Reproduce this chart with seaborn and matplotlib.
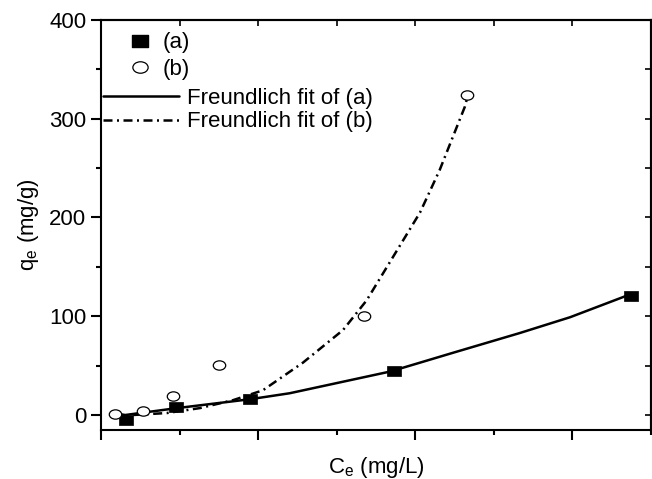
import numpy as np
import pandas as pd
import seaborn as sns
import matplotlib.pyplot as plt
from matplotlib.path import Path
from matplotlib.transforms import Affine2D
from matplotlib.lines import Line2D
from matplotlib.ticker import MultipleLocator, NullFormatter

# measured points
ce_a = [0.32, 0.95, 1.90, 3.73, 6.74]
qe_a = [-5, 8, 16, 45, 121]
ce_b = [0.18, 0.53, 0.92, 1.50, 3.35, 4.66]
qe_b = [1, 4, 19, 51, 100, 324]

# Freundlich fit curves
fit_a_x = [0.22, 0.31, 0.97, 1.90, 2.40, 3.68, 4.06, 4.48, 5.33, 5.97, 6.73]
fit_a_y = [1, 0, 7, 16, 22, 44, 53, 63, 83, 99, 122]
fit_b_x = [0.41, 0.84, 1.26, 1.68, 2.06, 2.57, 3.08, 3.38, 4.06, 4.31, 4.48, 4.63, 4.66]
fit_b_y = [0, 2, 7, 15, 25, 53, 86, 116, 205, 248, 282, 312, 321]

labels = ['(a)', '(b)', 'Freundlich fit of (a)', 'Freundlich fit of (b)']

sns.set_style('ticks')
plt.rcParams['font.family'] = ['Liberation Sans', 'DejaVu Sans']
plt.rcParams['axes.linewidth'] = 1.5
plt.rcParams['text.color'] = 'k'
plt.rcParams['axes.labelcolor'] = 'k'
plt.rcParams['xtick.color'] = 'k'
plt.rcParams['ytick.color'] = 'k'
plt.rcParams['axes.edgecolor'] = 'k'

dashdot = [3.6, 1.8, 0.8, 1.8]

# slightly flattened markers, as in the original
sq = Path.unit_rectangle().transformed(Affine2D().translate(-0.5, -0.5).scale(1, 0.75))
ell = Path.unit_circle().transformed(Affine2D().scale(1, 0.75))

fig = plt.figure(figsize=(6.52, 4.79), dpi=100)
ax = fig.add_axes([101/652, 1 - 430/479, 550/652, 410/479])

sns.lineplot(x=fit_a_x, y=fit_a_y, ax=ax, color='k', lw=1.8, estimator=None, sort=False)
sns.lineplot(x=fit_b_x, y=fit_b_y, ax=ax, color='k', lw=1.8, estimator=None, sort=False)
ax.lines[-1].set_dashes(dashdot)

df_a = pd.DataFrame({'ce': ce_a, 'qe': qe_a})
df_b = pd.DataFrame({'ce': ce_b, 'qe': qe_b})
sns.scatterplot(df_a, x='ce', y='qe', ax=ax, marker=sq, s=90, color='k',
                edgecolor='k', linewidth=0.5, zorder=3)
sns.scatterplot(df_b, x='ce', y='qe', ax=ax, marker=ell, s=80, facecolor='white',
                edgecolor='k', linewidth=0.9, zorder=3)

ax.set_xlim(0, 7.0)
ax.set_ylim(-15.2, 400)
ax.xaxis.set_major_locator(MultipleLocator(2))
ax.xaxis.set_minor_locator(MultipleLocator(1))
ax.xaxis.set_major_formatter(NullFormatter())
ax.yaxis.set_major_locator(MultipleLocator(100))
ax.yaxis.set_minor_locator(MultipleLocator(50))
ax.tick_params(which='both', width=1.5, labelsize=16, direction='out')
ax.tick_params(which='major', length=7)
ax.tick_params(which='minor', length=3.5)
for side in ['top', 'right']:
    ax.spines[side].set_visible(True)

# mirror ticks pointing inward on top and right
top = ax.secondary_xaxis('top')
top.xaxis.set_major_locator(MultipleLocator(2))
top.xaxis.set_minor_locator(MultipleLocator(1))
top.tick_params(which='both', direction='in', length=4, width=1.2, labeltop=False)
right = ax.secondary_yaxis('right')
right.yaxis.set_major_locator(MultipleLocator(100))
right.yaxis.set_minor_locator(MultipleLocator(50))
right.tick_params(which='both', direction='in', length=4, width=1.2, labelright=False)

ax.set_xlabel(r'$\mathregular{C_e}$ (mg/L)', fontsize=16)
ax.xaxis.set_label_coords(0.5, -0.062)
ax.set_ylabel(r'$\mathregular{q_e}$ (mg/g)', fontsize=16, labelpad=6)

mk_handles = [
    Line2D([], [], ls='none', marker=sq, ms=11, color='k'),
    Line2D([], [], ls='none', marker=ell, ms=11, mfc='white', mec='k', mew=0.9),
]
ln_handles = [
    Line2D([], [], color='k', lw=1.8),
    Line2D([], [], color='k', lw=1.8, dashes=dashdot),
]
leg1 = ax.legend(mk_handles, labels[:2], loc='upper left', bbox_to_anchor=(0.04, 0.97),
                 frameon=False, fontsize=16, handlelength=1.5, handletextpad=0.3,
                 borderpad=0, borderaxespad=0, labelspacing=0.25)
ax.add_artist(leg1)
ax.legend(ln_handles, labels[2:], loc='upper left', bbox_to_anchor=(0.004, 0.835),
          frameon=False, fontsize=16, handlelength=3.4, handletextpad=0.35,
          borderpad=0, borderaxespad=0, labelspacing=0.12)

fig.savefig('out.png', dpi=100)
